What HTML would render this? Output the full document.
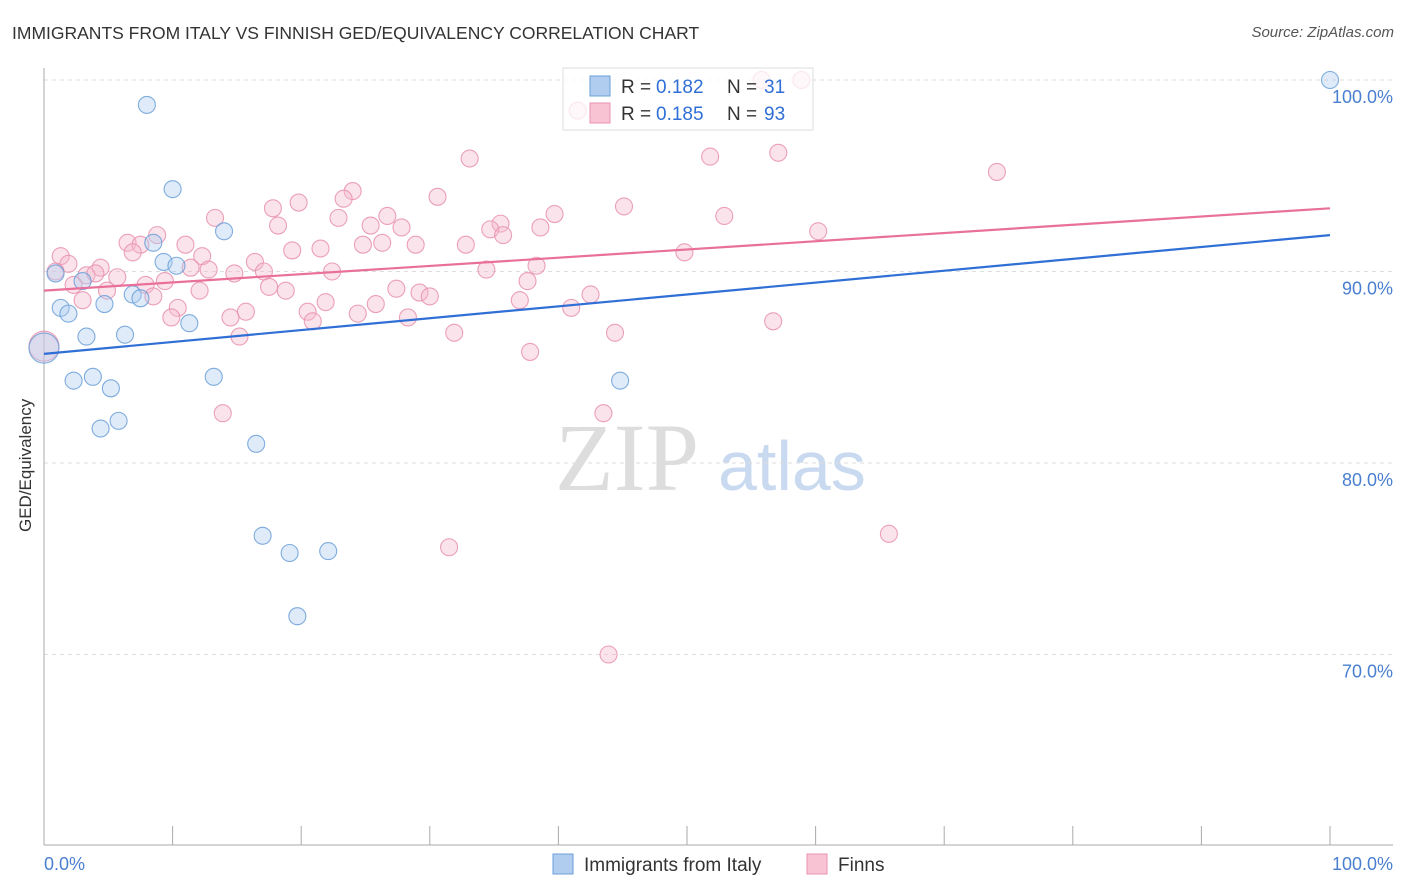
<!DOCTYPE html>
<html><head><meta charset="utf-8">
<style>
body{margin:0;background:#fff;font-family:"Liberation Sans",sans-serif;}
#wrap{position:relative;width:1406px;height:892px;overflow:hidden;}
.t{position:absolute;white-space:nowrap;}
</style></head>
<body>
<div id="wrap">
<div class="t" style="left:12px;top:23px;font-size:17.5px;color:#333;">IMMIGRANTS FROM ITALY VS FINNISH GED/EQUIVALENCY CORRELATION CHART</div>
<div class="t" style="right:12px;top:24px;font-size:15px;color:#555;font-style:italic;">Source: ZipAtlas.com</div>
<svg id="plot" width="1406" height="892" style="position:absolute;left:0;top:0"></svg>
<div class="t" style="left:16px;top:532px;transform:rotate(-90deg);transform-origin:0 0;font-size:17px;color:#333;">GED/Equivalency</div>
</div>
<script>
const italyX=[8.0,10.0,14.0,8.5,9.3,10.3,0.9,3.0,6.9,7.5,4.7,1.3,1.9,11.3,3.3,6.3,0,2.3,3.8,5.2,13.2,44.8,4.4,5.8,16.5,17.0,19.1,22.1,19.7,100];
const italyY=[98.7,94.3,92.1,91.5,90.5,90.3,89.9,89.5,88.8,88.6,88.3,88.1,87.8,87.3,86.6,86.7,86.0,84.3,84.5,83.9,84.5,84.3,81.8,82.2,81.0,76.2,75.3,75.4,72.0,100];
const finnsX=[55.8,58.9,41.5,33.1,51.8,57.1,74.1,24.0,23.3,30.6,19.8,17.8,13.3,18.2,22.9,26.7,25.4,27.8,39.7,45.1,52.9,35.5,34.7,35.7,38.6,60.2,8.8,6.5,7.5,11.0,21.5,24.8,26.3,28.9,32.8,19.3,6.9,12.3,16.4,1.3,1.9,49.8,4.4,3.3,4.0,5.7,11.4,12.8,14.8,17.1,22.4,34.4,38.3,0.9,2.3,9.4,7.9,4.9,8.5,3.0,12.1,17.5,18.8,27.4,29.2,30.0,37.6,42.5,10.4,15.7,14.5,20.5,21.9,25.8,24.4,9.9,20.9,28.3,37.0,41.0,15.2,31.9,44.4,56.7,37.8,0,13.9,43.5,31.5,65.7,43.9];
const finnsY=[100,100,98.4,95.9,96.0,96.2,95.2,94.2,93.8,93.9,93.6,93.3,92.8,92.4,92.8,92.9,92.4,92.3,93.0,93.4,92.9,92.5,92.2,91.9,92.3,92.1,91.9,91.5,91.4,91.4,91.2,91.4,91.5,91.4,91.4,91.1,91.0,90.8,90.5,90.8,90.4,91.0,90.2,89.8,89.9,89.7,90.2,90.1,89.9,90.0,90.0,90.1,90.3,90.0,89.3,89.5,89.3,89.0,88.7,88.5,89.0,89.2,89.0,89.1,88.9,88.7,89.5,88.8,88.1,87.9,87.6,87.9,88.4,88.3,87.8,87.6,87.4,87.6,88.5,88.1,86.6,86.8,86.8,87.4,85.8,86.1,82.6,82.6,75.6,76.3,70.0];
const italyTrend=[85.7,91.9];
const finnsTrend=[89.0,93.3];
const yTicks=[100,90,80,70];
const NS='http://www.w3.org/2000/svg';
const svg=document.getElementById('plot');
const X=v=>44+v*12.86, Y=v=>80+(100-v)*19.15;
function mk(t,a){const e=document.createElementNS(NS,t);for(const k in a)e.setAttribute(k,a[k]);svg.appendChild(e);return e;}
let wm=mk('text',{x:555,y:490,'font-size':96,fill:'#ddd','font-family':'Liberation Serif'});wm.textContent='ZIP';


let wm2=mk('text',{x:718,y:490,'font-size':70,fill:'#c9daf0','font-family':'Liberation Sans'});wm2.textContent='atlas';


yTicks.forEach(v=>{
 const g=mk('line',{x1:44,x2:1393,y1:Y(v),y2:Y(v),stroke:'#ddd','stroke-dasharray':'4,4'});
 
 
 const t=mk('text',{x:1393,y:Y(v)+23,'text-anchor':'end','font-size':18,fill:'#4a7fd0'});t.textContent=v.toFixed(1)+'%';
 
 
});
let ax=mk('line',{x1:44,x2:44,y1:68,y2:845,stroke:'#aaa'});


let bx=mk('line',{x1:44,x2:1393,y1:845,y2:845,stroke:'#aaa'});


for(let i=0;i<=10;i++){const tk=mk('line',{x1:X(i*10),x2:X(i*10),y1:826,y2:845,stroke:'#aaa'});
 
 }
[['0.0%',44,'start'],['100.0%',1393,'end']].forEach(a=>{const t=mk('text',{x:a[1],y:870,'text-anchor':a[2],'font-size':18,fill:'#4a7fd0'});t.textContent=a[0];
 
 });
function pts(xs,ys,fill,stroke,name){xs.forEach((x,i)=>{const big=(x===0);const c=mk('circle',{cx:X(x),cy:Y(ys[i]),r:big?15:8.5,fill:fill,'fill-opacity':0.4,stroke:stroke,'stroke-width':1.1,'stroke-opacity':0.85});
 
 });}
pts(finnsX,finnsY,'#f5b8cc','#e890ae','finns');
pts(italyX,italyY,'#b0cdf0','#6a9fd8','italy');
let l1=mk('line',{x1:X(0),x2:X(100),y1:Y(italyTrend[0]),y2:Y(italyTrend[1]),stroke:'#2f6fd6','stroke-width':2.2});


let l2=mk('line',{x1:X(0),x2:X(100),y1:Y(finnsTrend[0]),y2:Y(finnsTrend[1]),stroke:'#e8709a','stroke-width':2.2});


let lb=mk('rect',{x:563,y:68,width:250,height:62,fill:'#fff','fill-opacity':0.75,stroke:'#ddd'});


[['#b0cdf0','#6a9fd8','0.182','31',86],['#f8c4d4','#e890ae','0.185','93',113]].forEach((r,i)=>{
 const s=mk('rect',{x:590,y:r[4]-10,width:20,height:20,fill:r[0],stroke:r[1]});
 
 
 const parts=[['R =',621,'#333'],[r[2],656,'#2f6fd6'],['N =',727,'#333'],[r[3],764,'#2f6fd6']];
 parts.forEach(p=>{const t=mk('text',{x:p[1],y:r[4]+7,'font-size':19,fill:p[2]});t.textContent=p[0];
  
  });
});
[['#b0cdf0','#6a9fd8','Immigrants from Italy',553],['#f8c4d4','#e890ae','Finns',807]].forEach((r,i)=>{
 const s=mk('rect',{x:r[3],y:854,width:20,height:20,fill:r[0],stroke:r[1]});
 
 
 const t=mk('text',{x:r[3]+31,y:871,'font-size':19,fill:'#333'});t.textContent=r[2];
 
 
});
</script>
</body></html>
